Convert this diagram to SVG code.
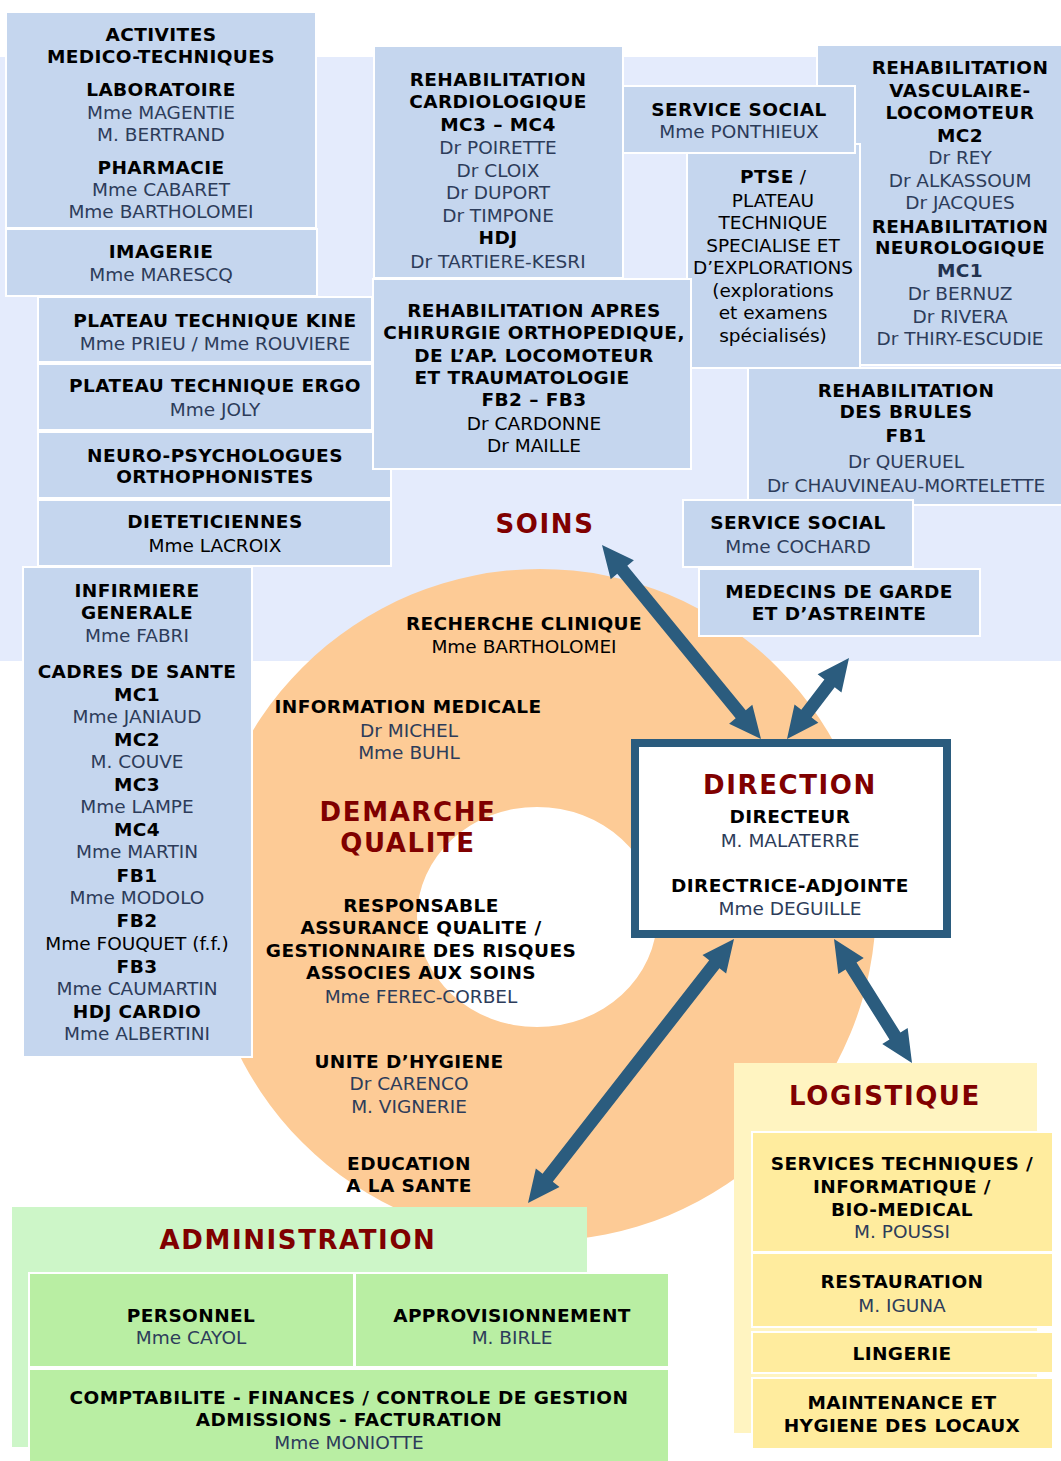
<svg xmlns="http://www.w3.org/2000/svg" width="1061" height="1461" viewBox="0 0 1061 1461">
<defs>
<style>
.bg{fill:#E4EBFC}
.box{fill:#C5D6EE;stroke:#FFFFFF;stroke-width:2}
.ylo{fill:#FFF4C1}
.yin{fill:#FFEC9E;stroke:#FFFFFF;stroke-width:2}
.glo{fill:#CDF6C8}
.gin{fill:#B9EEA3;stroke:#FFFFFF;stroke-width:2}
text{text-anchor:middle;font-family:"DejaVu Sans","Liberation Sans",sans-serif;font-size:18.5px}
.b{font-weight:bold;fill:#000;letter-spacing:0.4px}
.n{fill:#2D3C5A}
.k{fill:#000}
.t{font-weight:bold;font-size:26px;fill:#800000;letter-spacing:1.6px}
.arr{fill:#2B5C7E}
</style>
</defs>
<rect class="bg" x="0" y="57" width="1061" height="604"/>
<path d="M204,905 A336,336 0 1,0 876,905 A336,336 0 1,0 204,905 Z M417,917 A120,110 0 1,1 657,917 A120,110 0 1,1 417,917 Z" fill="#FDCB96" fill-rule="evenodd"/>

<g id="activites"><rect class="box" x="6" y="12" width="310" height="216"/>
<text class="b" x="161" y="41">ACTIVITES</text><text class="b" x="161" y="63">MEDICO-TECHNIQUES</text>
<text class="b" x="161" y="96">LABORATOIRE</text><text class="n" x="161" y="119">Mme MAGENTIE</text><text class="n" x="161" y="141">M. BERTRAND</text>
<text class="b" x="161" y="174">PHARMACIE</text><text class="n" x="161" y="196">Mme CABARET</text><text class="n" x="161" y="218">Mme BARTHOLOMEI</text></g>
<g id="imagerie"><rect class="box" x="6" y="229" width="311" height="67"/>
<text class="b" x="161" y="258">IMAGERIE</text><text class="n" x="161" y="281">Mme MARESCQ</text></g>
<g id="kine"><rect class="box" x="38" y="297" width="334" height="65"/>
<text class="b" x="215" y="327">PLATEAU TECHNIQUE KINE</text><text class="n" x="215" y="350">Mme PRIEU / Mme ROUVIERE</text></g>
<g id="ergo"><rect class="box" x="38" y="364" width="334" height="66"/>
<text class="b" x="215" y="392">PLATEAU TECHNIQUE ERGO</text><text class="n" x="215" y="416">Mme JOLY</text></g>
<g id="neuro"><rect class="box" x="38" y="432" width="353" height="66"/>
<text class="b" x="215" y="462">NEURO-PSYCHOLOGUES</text><text class="b" x="215" y="483">ORTHOPHONISTES</text></g>
<g id="diet"><rect class="box" x="38" y="500" width="353" height="66"/>
<text class="b" x="215" y="528">DIETETICIENNES</text><text class="k" x="215" y="552">Mme LACROIX</text></g>
<g id="infirmiere"><rect class="box" x="23" y="567" width="229" height="490"/>
<text class="b" x="137" y="597">INFIRMIERE</text><text class="b" x="137" y="619">GENERALE</text><text class="n" x="137" y="642">Mme FABRI</text>
<text class="b" x="137" y="678">CADRES DE SANTE</text>
<text class="b" x="137" y="701">MC1</text><text class="n" x="137" y="723">Mme JANIAUD</text>
<text class="b" x="137" y="746">MC2</text><text class="n" x="137" y="768">M. COUVE</text>
<text class="b" x="137" y="791">MC3</text><text class="n" x="137" y="813">Mme LAMPE</text>
<text class="b" x="137" y="836">MC4</text><text class="n" x="137" y="858">Mme MARTIN</text>
<text class="b" x="137" y="882">FB1</text><text class="n" x="137" y="904">Mme MODOLO</text>
<text class="b" x="137" y="927">FB2</text><text class="k" x="137" y="950">Mme FOUQUET (f.f.)</text>
<text class="b" x="137" y="973">FB3</text><text class="n" x="137" y="995">Mme CAUMARTIN</text>
<text class="b" x="137" y="1018">HDJ CARDIO</text><text class="n" x="137" y="1040">Mme ALBERTINI</text></g>

<g id="cardio"><rect class="box" x="374" y="46" width="249" height="232"/>
<text class="b" x="498" y="86">REHABILITATION</text><text class="b" x="498" y="108">CARDIOLOGIQUE</text><text class="b" x="498" y="131">MC3 – MC4</text>
<text class="n" x="498" y="154">Dr POIRETTE</text><text class="n" x="498" y="177">Dr CLOIX</text><text class="n" x="498" y="199">Dr DUPORT</text><text class="n" x="498" y="222">Dr TIMPONE</text>
<text class="b" x="498" y="244">HDJ</text><text class="n" x="498" y="268">Dr TARTIERE-KESRI</text></g>
<g id="vasculaire"><rect class="box" x="817" y="45" width="245" height="320"/>
<text class="b" x="960" y="74">REHABILITATION</text><text class="b" x="960" y="97">VASCULAIRE-</text><text class="b" x="960" y="119">LOCOMOTEUR</text><text class="b" x="960" y="142">MC2</text>
<text class="n" x="960" y="164">Dr REY</text><text class="n" x="960" y="187">Dr ALKASSOUM</text><text class="n" x="960" y="209">Dr JACQUES</text>
<text class="b" x="960" y="233">REHABILITATION</text><text class="b" x="960" y="254">NEUROLOGIQUE</text><text class="b" x="960" y="277" style="fill:#22324F">MC1</text>
<text class="n" x="960" y="300">Dr BERNUZ</text><text class="n" x="960" y="323">Dr RIVERA</text><text class="n" x="960" y="345">Dr THIRY-ESCUDIE</text></g>
<g id="ptse"><rect class="box" x="687" y="144" width="173" height="224"/>
<text class="k" x="773" y="183"><tspan class="b">PTSE</tspan> /</text>
<text class="k" x="773" y="207">PLATEAU</text><text class="k" x="773" y="229">TECHNIQUE</text><text class="k" x="773" y="252">SPECIALISE ET</text><text class="k" x="773" y="274">D’EXPLORATIONS</text>
<text class="k" x="773" y="297">(explorations</text><text class="k" x="773" y="319">et examens</text><text class="k" x="773" y="342">spécialisés)</text></g>
<g id="social1"><rect class="box" x="623" y="86" width="232" height="67"/>
<text class="b" x="739" y="116">SERVICE SOCIAL</text><text class="n" x="739" y="138">Mme PONTHIEUX</text></g>
<g id="orthopedie"><rect class="box" x="373" y="279" width="318" height="190"/>
<text class="b" x="534" y="317">REHABILITATION APRES</text><text class="b" x="534" y="339">CHIRURGIE ORTHOPEDIQUE,</text><text class="b" x="534" y="362">DE L’AP. LOCOMOTEUR</text><text class="b" x="522" y="384">ET TRAUMATOLOGIE</text>
<text class="b" x="534" y="406">FB2 – FB3</text><text class="k" x="534" y="430">Dr CARDONNE</text><text class="k" x="534" y="452">Dr MAILLE</text></g>
<g id="brules"><rect class="box" x="748" y="368" width="314" height="137"/>
<text class="b" x="906" y="397">REHABILITATION</text><text class="b" x="906" y="418">DES BRULES</text><text class="b" x="906" y="442">FB1</text>
<text class="n" x="906" y="468">Dr QUERUEL</text><text class="n" x="906" y="492">Dr CHAUVINEAU-MORTELETTE</text></g>
<g id="social2"><rect class="box" x="683" y="500" width="230" height="67"/>
<text class="b" x="798" y="529">SERVICE SOCIAL</text><text class="n" x="798" y="553">Mme COCHARD</text></g>
<g id="medecins"><rect class="box" x="699" y="569" width="281" height="67"/>
<text class="b" x="839" y="598">MEDECINS DE GARDE</text><text class="b" x="839" y="620">ET D’ASTREINTE</text></g>

<g id="soins"><text class="t" x="545" y="533">SOINS</text></g>

<g id="qualite">
<text class="b" x="524" y="630">RECHERCHE CLINIQUE</text><text class="k" x="524" y="653">Mme BARTHOLOMEI</text>
<text class="b" x="408" y="713">INFORMATION MEDICALE</text><text class="n" x="409" y="737">Dr MICHEL</text><text class="n" x="409" y="759">Mme BUHL</text>
<text class="t" x="408" y="821">DEMARCHE</text><text class="t" x="408" y="852">QUALITE</text>
<text class="b" x="421" y="912">RESPONSABLE</text><text class="b" x="421" y="934">ASSURANCE QUALITE /</text><text class="b" x="421" y="957">GESTIONNAIRE DES RISQUES</text><text class="b" x="421" y="979">ASSOCIES AUX SOINS</text><text class="n" x="421" y="1003">Mme FEREC-CORBEL</text>
<text class="b" x="409" y="1068">UNITE D’HYGIENE</text><text class="n" x="409" y="1090">Dr CARENCO</text><text class="n" x="409" y="1113">M. VIGNERIE</text>
<text class="b" x="409" y="1170">EDUCATION</text><text class="b" x="409" y="1192">A LA SANTE</text></g>

<g id="direction"><rect x="635" y="743" width="312" height="191" fill="#FFFFFF" stroke="#2B5C7E" stroke-width="8"/>
<text class="t" x="790" y="794">DIRECTION</text>
<text class="b" x="790" y="823">DIRECTEUR</text><text class="n" x="790" y="847">M. MALATERRE</text>
<text class="b" x="790" y="892">DIRECTRICE-ADJOINTE</text><text class="n" x="790" y="915">Mme DEGUILLE</text></g>

<g id="logistique"><rect class="ylo" x="734" y="1063" width="303" height="370"/>
<text class="t" x="885" y="1105">LOGISTIQUE</text>
<rect class="yin" x="752" y="1132" width="301" height="120"/>
<text class="b" x="902" y="1170">SERVICES TECHNIQUES /</text><text class="b" x="902" y="1193">INFORMATIQUE /</text><text class="b" x="902" y="1216">BIO-MEDICAL</text><text class="n" x="902" y="1238">M. POUSSI</text>
<rect class="yin" x="752" y="1253" width="301" height="74"/>
<text class="b" x="902" y="1288">RESTAURATION</text><text class="n" x="902" y="1312">M. IGUNA</text>
<rect class="yin" x="752" y="1332" width="301" height="41"/>
<text class="b" x="902" y="1360">LINGERIE</text>
<rect class="yin" x="752" y="1378" width="301" height="71"/>
<text class="b" x="902" y="1409">MAINTENANCE ET</text><text class="b" x="902" y="1432">HYGIENE DES LOCAUX</text></g>

<g id="administration"><rect class="glo" x="12" y="1207" width="575" height="240"/>
<text class="t" x="298" y="1249">ADMINISTRATION</text>
<rect class="gin" x="29" y="1273" width="325" height="94"/>
<text class="b" x="191" y="1322">PERSONNEL</text><text class="n" x="191" y="1344">Mme CAYOL</text>
<rect class="gin" x="355" y="1273" width="314" height="94"/>
<text class="b" x="512" y="1322">APPROVISIONNEMENT</text><text class="n" x="512" y="1344">M. BIRLE</text>
<rect class="gin" x="29" y="1369" width="640" height="94"/>
<text class="b" x="349" y="1404">COMPTABILITE - FINANCES / CONTROLE DE GESTION</text><text class="b" x="349" y="1426">ADMISSIONS - FACTURATION</text><text class="n" x="349" y="1449">Mme MONIOTTE</text></g>

<g id="connectors">
<polygon class="arr" points="602,545 610.69,579.26 617.26,573.87 735.68,718.37 729.11,723.76 761,739 752.31,704.74 745.74,710.13 627.32,565.63 633.89,560.24"/>
<polygon class="arr" points="787,739 818.36,722.71 811.61,717.54 834.71,687.36 841.46,692.53 849,658 817.64,674.29 824.39,679.46 801.29,709.64 794.54,704.47"/>
<polygon class="arr" points="734,939 702.5,955 709.2,960.23 542.56,1173.77 535.86,1168.54 528,1203 559.5,1187 552.8,1181.77 719.44,968.23 726.14,973.46"/>
<polygon class="arr" points="834,939 838.34,974.07 845.54,969.54 889.46,1039.38 882.26,1043.91 912,1063 907.66,1027.93 900.46,1032.46 856.54,962.62 863.74,958.09"/>
</g>
</svg>
